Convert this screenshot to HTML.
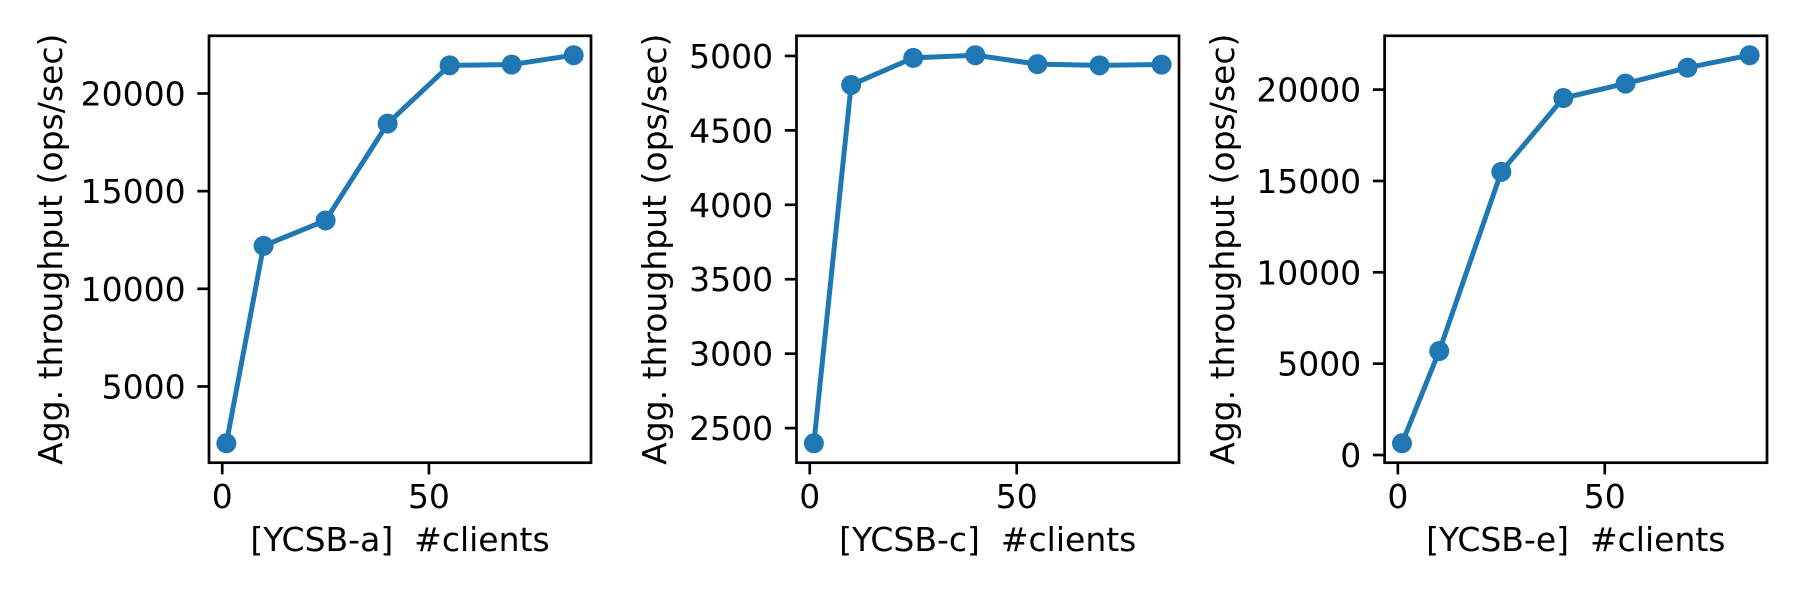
<!DOCTYPE html>
<html><head><meta charset="utf-8">
<style>
html,body{margin:0;padding:0;background:#fff;}
svg{display:block;font-family:"DejaVu Sans","Liberation Sans",sans-serif;}
</style></head>
<body>
<svg id="chart" width="1800" height="600" viewBox="0 0 1800 600"></svg>
<script>
const clients = [1, 10, 25, 40, 55, 70, 85];
const ycsbA = [2090, 12200, 13500, 18460, 21440, 21480, 21960];
const ycsbC = [2398, 4805, 4987, 5005, 4945, 4937, 4942];
const ycsbE = [641, 5690, 15500, 19540, 20330, 21200, 21883];
const xTicks = [0, 50];
const yTicksA = [5000, 10000, 15000, 20000];
const yTicksC = [2500, 3000, 3500, 4000, 4500, 5000];
const yTicksE = [0, 5000, 10000, 15000, 20000];
const panelNames = ["YCSB-a", "YCSB-c", "YCSB-e"];

const NS = "http://www.w3.org/2000/svg";
const svgRoot = document.getElementById("chart");
function mk(tag, attrs, parent) {
  const e = document.createElementNS(NS, tag);
  for (const k in attrs) e.setAttribute(k, attrs[k]);
  (parent || svgRoot).appendChild(e);
  return e;
}
const panels = [
  {left: 209, right: 591, labelX: 62, data: ycsbA, ticks: yTicksA, id: "a"},
  {left: 796.5, right: 1179, labelX: 666, data: ycsbC, ticks: yTicksC, id: "c"},
  {left: 1384.6, right: 1767, labelX: 1234, data: ycsbE, ticks: yTicksE, id: "e"}
];
const axTop = 35.8, axBottom = 462.7;
panels.forEach((p, i) => {
  const g = mk("g", {});
  
  
  const xmin0 = Math.min(...clients), xmax0 = Math.max(...clients);
  const xm = (xmax0 - xmin0) * 0.05;
  const xlo = xmin0 - xm, xhi = xmax0 + xm;
  const ymin0 = Math.min(...p.data), ymax0 = Math.max(...p.data);
  const ym = (ymax0 - ymin0) * 0.05;
  const ylo = ymin0 - ym, yhi = ymax0 + ym;
  const sx = v => p.left + (v - xlo) / (xhi - xlo) * (p.right - p.left);
  const sy = v => axBottom - (v - ylo) / (yhi - ylo) * (axBottom - axTop);
  xTicks.forEach(t => {
    const x = sx(t);
    const tk = mk("line", {x1: x, x2: x, y1: axBottom, y2: axBottom + 11.7, stroke: "#000", "stroke-width": 2.7}, g);
    
    
    const tl = mk("text", {x: x, y: 508, "font-size": 33, "text-anchor": "middle", fill: "#000"}, g);
    tl.textContent = t;
    
    
  });
  p.ticks.forEach(t => {
    const y = sy(t);
    const tk = mk("line", {x1: p.left - 11.7, x2: p.left, y1: y, y2: y, stroke: "#000", "stroke-width": 2.7}, g);
    
    
    const tl = mk("text", {x: p.left - 23.4, y: y + 12, "font-size": 33, "text-anchor": "end", fill: "#000"}, g);
    tl.textContent = t;
    
    
  });
  const pts = clients.map((c, k) => sx(c) + "," + sy(p.data[k])).join(" ");
  const line = mk("polyline", {points: pts, fill: "none", stroke: "#1f77b4", "stroke-width": 5, "stroke-linejoin": "round", "stroke-linecap": "square"}, g);
  
  
  clients.forEach((c, k) => {
    const m = mk("circle", {cx: sx(c), cy: sy(p.data[k]), r: 10, fill: "#1f77b4"}, g);
    
    
  });
  const fr = mk("rect", {x: p.left, y: axTop, width: p.right - p.left, height: axBottom - axTop, fill: "none", stroke: "#000", "stroke-width": 2.7}, g);
  
  
  const cy = (axTop + axBottom) / 2;
  const yl = mk("text", {x: p.labelX, y: cy, "font-size": 33, "text-anchor": "middle", fill: "#000", transform: "rotate(-90 " + p.labelX + " " + cy + ")"}, g);
  yl.textContent = "Agg. throughput (ops/sec)";
  
  
  const xl = mk("text", {x: (p.left + p.right) / 2, y: 551, "font-size": 33, "text-anchor": "middle", fill: "#000", style: "white-space:pre"}, g);
  xl.textContent = "[" + panelNames[i] + "]  #clients";
  
  
});
</script>
</body></html>
